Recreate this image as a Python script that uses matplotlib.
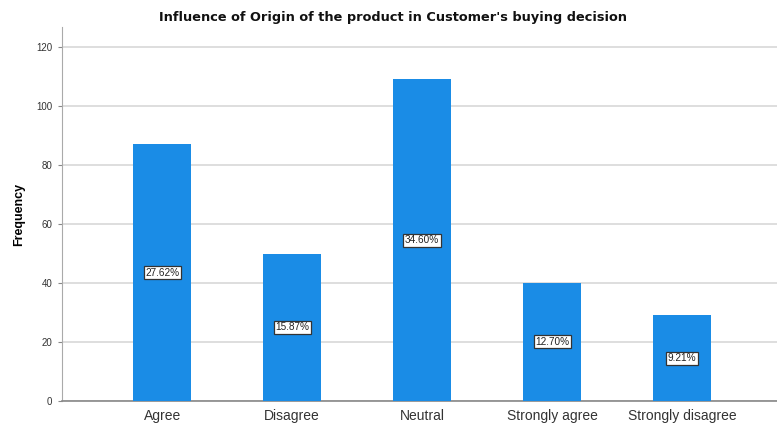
import matplotlib
matplotlib.use("Agg")
import matplotlib.pyplot as plt

categories = ["Agree", "Disagree", "Neutral", "Strongly agree", "Strongly disagree"]
frequencies = [87, 50, 109, 40, 29]
percent_labels = ["27.62%", "15.87%", "34.60%", "12.70%", "9.21%"]
y_ticks = [0, 20, 40, 60, 80, 100, 120]

plt.rcParams["font.family"] = ["Liberation Sans", "DejaVu Sans"]

fig = plt.figure(figsize=(7.77, 4.25), dpi=100)
ax = fig.add_axes([0.0798, 0.0565, 0.9202, 0.8800])

x = list(range(len(categories)))
bars = ax.bar(x, frequencies, width=0.45, color="#1a8ce6", zorder=3)

for bar, lab in zip(bars, percent_labels):
    ax.text(bar.get_x() + bar.get_width() / 2, bar.get_height() / 2, lab,
            ha="center", va="center", fontsize=7.2, color="#222222", zorder=4,
            bbox=dict(boxstyle="square,pad=0.15", fc="white", ec="#333333", lw=0.9))

ax.set_xlim(-0.77, 4.73)
ax.set_ylim(0, 126.8)
ax.set_yticks(y_ticks)
ax.set_yticklabels([str(t) for t in y_ticks], fontsize=7, color="#333333")
ax.set_xticks(x)
ax.set_xticklabels(categories, fontsize=10, color="#333333")
ax.tick_params(axis="x", length=0, pad=6)
ax.tick_params(axis="y", length=3, color="#888888", pad=4)

ax.grid(axis="y", color="#d8d8d8", lw=1.2, zorder=0)
for side in ["top", "right"]:
    ax.spines[side].set_visible(False)
ax.spines["left"].set_color("#aaaaaa")
ax.spines["bottom"].set_color("#888888")
ax.spines["bottom"].set_linewidth(1.2)

ax.set_ylabel("Frequency", fontsize=9, fontweight="bold", labelpad=8)
fig.text(0.506, 0.958, "Influence of Origin of the product in Customer's buying decision",
         ha="center", va="center", fontsize=9.3, fontweight="bold", color="#111111",
         family="DejaVu Sans")

fig.savefig("out.png", dpi=100)
